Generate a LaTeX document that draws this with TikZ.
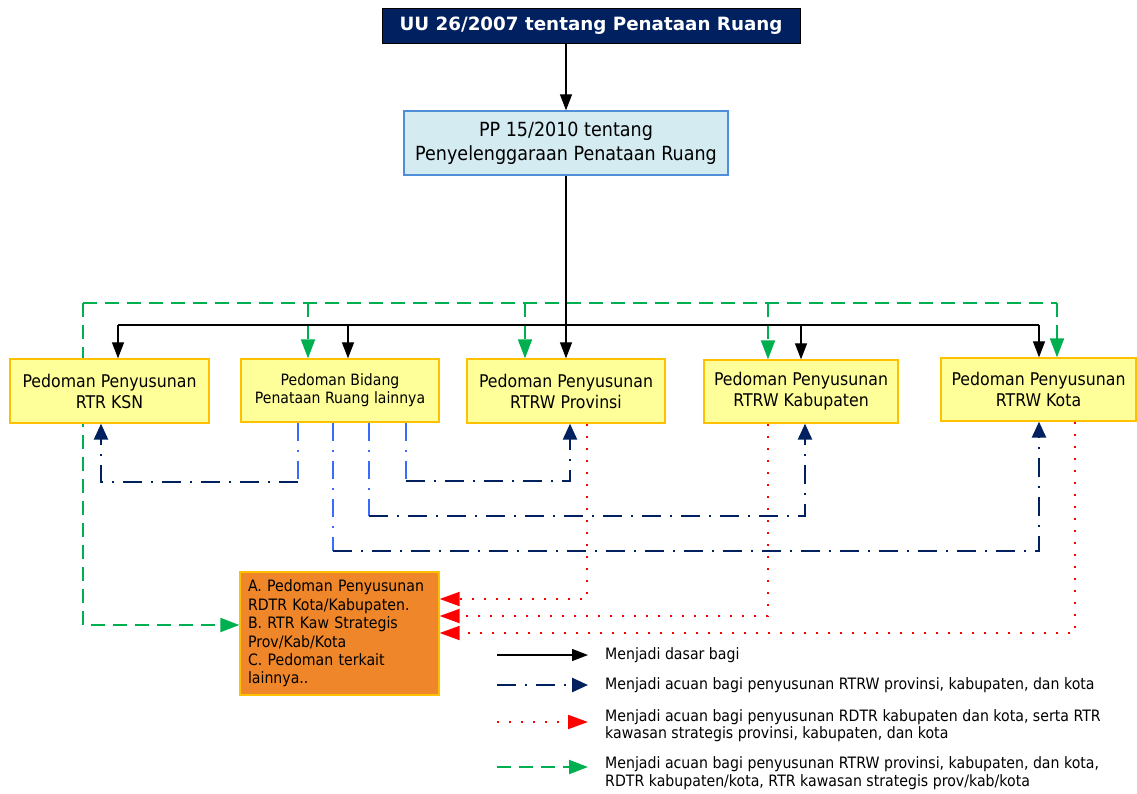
\documentclass[tikz,border=0pt]{standalone}
\usepackage{fontspec}
\setmainfont{DejaVu Sans}[FakeStretch=0.9]
\newfontfamily\ttlfont{DejaVu Sans}
\usetikzlibrary{arrows.meta,backgrounds}
\definecolor{navy}{HTML}{002060}
\definecolor{ylw}{HTML}{FFFF99}
\definecolor{gold}{HTML}{FFC000}
\definecolor{ppfill}{HTML}{D4EBF1}
\definecolor{ppborder}{HTML}{4F8ED8}
\definecolor{org}{HTML}{F0862A}
\definecolor{grn}{HTML}{00B050}
\definecolor{lblue}{HTML}{3A6BFF}
\definecolor{rd}{HTML}{FF0000}
\begin{document}
\begin{tikzpicture}[x=1pt,y=-1pt,
  ybox/.style={draw=gold,line width=1.3pt,fill=ylw,inner sep=0pt,align=center,
    font=\fontsize{17.5}{21}\selectfont},
  blk/.style={black,line width=1.2pt},
  blkarr/.style={blk,-{Triangle[length=16pt,width=12pt]}},
  grnl/.style={grn,line width=2pt,dash pattern=on 14pt off 8pt},
  grnarr/.style={grnl,-{Triangle[length=19pt,width=14pt]}},
  nv/.style={navy,line width=2.5pt,dash pattern=on 19pt off 9pt on 2pt off 9pt},
  nvarr/.style={nv,-{Triangle[length=16pt,width=14pt]}},
  lb/.style={lblue,line width=2pt,dash pattern=on 18pt off 9pt on 2pt off 9pt},
  rdl/.style={rd,line width=2pt,dash pattern=on 2pt off 10pt},
  rdarr/.style={rdl,-{Triangle[length=20pt,width=14pt]}},
  legtxt/.style={anchor=west,inner sep=0pt,align=left,font=\fontsize{15.7}{17.5}\selectfont}
]
\useasboundingbox (0,0) rectangle (1137,793);

% main nodes
\node[draw=black,line width=1pt,fill=navy,text=white,minimum width=418pt,minimum height=35pt,inner sep=0pt,
  font=\ttlfont\bfseries\fontsize{18.3}{20}\selectfont] (UU) at (591,25.5) {UU 26/2007 tentang Penataan Ruang};
\node[draw=ppborder,line width=1.3pt,fill=ppfill,minimum width=324pt,minimum height=64pt,inner sep=0pt,align=center,
  font=\fontsize{19.5}{24}\selectfont] (PP) at (566,143) {PP 15/2010 tentang\\Penyelenggaraan Penataan Ruang};

\node[ybox,minimum width=199pt,minimum height=64pt] (KSN) at (109.5,391) {Pedoman Penyusunan\\RTR KSN};
\node[ybox,minimum width=198pt,minimum height=63pt,font=\fontsize{15.6}{18}\selectfont] (Bid) at (340,390.5) {Pedoman Bidang\\Penataan Ruang lainnya};
\node[ybox,minimum width=198pt,minimum height=64pt] (Prov) at (566,391) {Pedoman Penyusunan\\RTRW Provinsi};
\node[ybox,minimum width=194pt,minimum height=63pt] (Kab) at (801,391.5) {Pedoman Penyusunan\\RTRW Kabupaten};
\node[ybox,minimum width=195pt,minimum height=63pt] (Kota) at (1038.5,389.5) {Pedoman Penyusunan\\RTRW Kota};

\node[draw=gold,line width=1.3pt,fill=org,minimum width=199pt,minimum height=123pt,inner sep=0pt,
  text width=183pt,align=left,font=\fontsize{15.7}{18.4}\selectfont] (Org) at (339.5,633.5)
  {A. Pedoman Penyusunan\\RDTR Kota/Kabupaten.\\B. RTR Kaw Strategis\\Prov/Kab/Kota\\C. Pedoman terkait\\lainnya..};

% green connectors (behind boxes)
\coordinate (g0) at (83,303);
\coordinate (g1) at (83,625);
\coordinate (gB) at (308,303);
\coordinate (gP) at (525,303);
\coordinate (gK) at (768,303);
\coordinate (gT) at (1057,303);
\begin{pgfonlayer}{background}
\draw[grnl] (g0) -- (gT);
\draw[grnarr] (g0) -- (g1) -- (g1 -| Org.west);
\end{pgfonlayer}
\draw[grnarr] (gB) -- (gB |- Bid.north);
\draw[grnarr] (gP) -- (gP |- Prov.north);
\draw[grnarr] (gK) -- (gK |- Kab.north);
\draw[grnarr] (gT) -- (gT |- Kota.north);

% black connectors
\coordinate (b0) at (118,325);
\coordinate (bB) at (348,325);
\coordinate (bK) at (801,325);
\coordinate (bT) at (1039,325);
\draw[blkarr] (UU.south -| PP.north) -- (PP.north);
\draw[blkarr] (PP.south) -- (Prov.north);
\draw[blk] (b0) -- (bT);
\draw[blkarr] (b0) -- (b0 |- KSN.north);
\draw[blkarr] (bB) -- (bB |- Bid.north);
\draw[blkarr] (bK) -- (bK |- Kab.north);
\draw[blkarr] (bT) -- (bT |- Kota.north);

% navy dash-dot connectors
\coordinate (t1) at (298,482);  \coordinate (a1) at (101,482);
\coordinate (t2) at (406,481);  \coordinate (a2) at (570,481);
\coordinate (t3) at (369,516);  \coordinate (a3) at (805,516);
\coordinate (t4) at (333,551);  \coordinate (a4) at (1039,551);
\draw[lb] (t1 |- Bid.south) -- (t1);
\draw[lb] (t2 |- Bid.south) -- (t2);
\draw[lb] (t3 |- Bid.south) -- (t3);
\draw[lb] (t4 |- Bid.south) -- (t4);
\draw[nvarr] (t1) -- (a1) -- (a1 |- KSN.south);
\draw[nvarr] (t2) -- (a2) -- (a2 |- Prov.south);
\draw[nvarr] (t3) -- (a3) -- (a3 |- Kab.south);
\draw[nvarr] (t4) -- (a4) -- (a4 |- Kota.south);

% red dotted connectors
\coordinate (r1) at (587,599);
\coordinate (r2) at (768,616);
\coordinate (r3) at (1075,633);
\draw[rdarr] (r1 |- Prov.south) -- (r1) -- (r1 -| Org.east);
\draw[rdarr] (r2 |- Kab.south) -- (r2) -- (r2 -| Org.east);
\draw[rdarr] (r3 |- Kota.south) -- (r3) -- (r3 -| Org.east);

% legend
\coordinate (l1a) at (497,655); \coordinate (l1b) at (588,655);
\coordinate (l2a) at (497,685); \coordinate (l2b) at (588,685);
\coordinate (l3a) at (497,722); \coordinate (l3b) at (588,722);
\coordinate (l4a) at (497,767); \coordinate (l4b) at (588,767);
\draw[blkarr] (l1a) -- (l1b);
\draw[nvarr] (l2a) -- (l2b);
\draw[rdarr] (l3a) -- (l3b);
\draw[grnarr] (l4a) -- (l4b);
\node[legtxt] (L1) at (605,655) {Menjadi dasar bagi};
\node[legtxt] (L2) at (605,685) {Menjadi acuan bagi penyusunan RTRW provinsi, kabupaten, dan kota};
\node[legtxt] (L3) at (605,725.5) {Menjadi acuan bagi penyusunan RDTR kabupaten dan kota, serta RTR\\kawasan strategis provinsi, kabupaten, dan kota};
\node[legtxt] (L4) at (605,773) {Menjadi acuan bagi penyusunan RTRW provinsi, kabupaten, dan kota,\\RDTR kabupaten/kota, RTR kawasan strategis prov/kab/kota};
\end{tikzpicture}
\end{document}
